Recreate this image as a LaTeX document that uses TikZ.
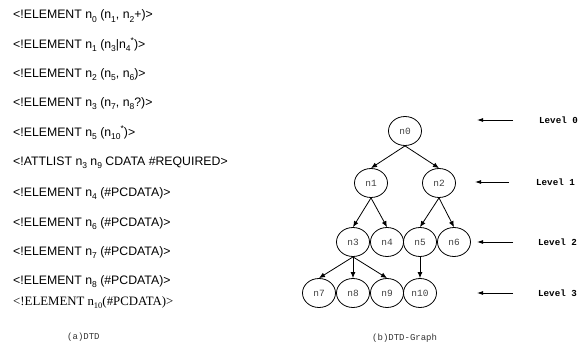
\documentclass[tikz,border=0pt]{standalone}
\usepackage{fontspec}
\setmainfont{Liberation Sans}
\newfontfamily\dtdsans{Liberation Sans}
\newfontfamily\dtdserif{Liberation Serif}
\newfontfamily\dtdmono{Liberation Mono}
\usetikzlibrary{shapes.geometric,arrows.meta}
\newcommand\dsub[1]{\raisebox{-3.2pt}{\fontsize{8.5}{9}\selectfont#1}}
\newcommand\dsup[1]{\raisebox{5pt}{\fontsize{8.5}{9}\selectfont#1}}
\begin{document}
\begin{tikzpicture}[x=1pt,y=-1pt,
  dtdline/.style={anchor=base west,inner sep=0pt,font=\dtdsans\fontsize{12.3}{14}\selectfont},
  dtdlast/.style={anchor=base west,inner sep=0pt,font=\dtdserif\fontsize{12.8}{14}\selectfont},
  gnode/.style={draw,ellipse,minimum width=33pt,minimum height=29pt,inner sep=0pt,line width=0.8pt,
    text=black!75,font=\dtdmono\fontsize{9.5}{10}\selectfont},
  edge/.style={line width=0.8pt,-{Latex[length=6pt,width=5pt]}},
  lvlarrow/.style={line width=0.8pt,-{Latex[length=6pt,width=4pt]}},
  lvllabel/.style={anchor=west,inner sep=0pt,font=\dtdmono\bfseries\fontsize{9.2}{10}\selectfont},
  caption/.style={anchor=west,inner sep=0pt,text=black!80,font=\dtdmono\fontsize{9}{10}\selectfont}]
\useasboundingbox (0,0) rectangle (579,348);
% DTD text
\node[dtdline] (d1) at (13,19) {<!ELEMENT n\dsub{0} (n\dsub{1}, n\dsub{2}+)>};
\node[dtdline] (d2) at (13,48) {<!ELEMENT n\dsub{1} (n\dsub{3}|n\dsub{4}\dsup{*})>};
\node[dtdline] (d3) at (13,77) {<!ELEMENT n\dsub{2} (n\dsub{5}, n\dsub{6})>};
\node[dtdline] (d4) at (13,106) {<!ELEMENT n\dsub{3} (n\dsub{7}, n\dsub{8}?)>};
\node[dtdline] (d5) at (13,136) {<!ELEMENT n\dsub{5} (n\dsub{10}\dsup{*})>};
\node[dtdline] (d6) at (13,165) {<!ATTLIST n\dsub{3} n\dsub{9} CDATA \#REQUIRED>};
\node[dtdline] (d7) at (13,196) {<!ELEMENT n\dsub{4} (\#PCDATA)>};
\node[dtdline] (d8) at (13,226) {<!ELEMENT n\dsub{6} (\#PCDATA)>};
\node[dtdline] (d9) at (13,255) {<!ELEMENT n\dsub{7} (\#PCDATA)>};
\node[dtdline] (d10) at (13,284) {<!ELEMENT n\dsub{8} (\#PCDATA)>};
\node[dtdlast] (d11) at (13,305) {<!ELEMENT n\dsub{10}(\#PCDATA)>};
\node[caption] (capa) at (67,337) {(a)DTD};
% graph
\node[gnode] (n0) at (405,131) {n0};
\node[gnode] (n1) at (371,183) {n1};
\node[gnode] (n2) at (439,183) {n2};
\node[gnode] (n3) at (353,242) {n3};
\node[gnode] (n4) at (387,242) {n4};
\node[gnode] (n5) at (420,242) {n5};
\node[gnode] (n6) at (454,242) {n6};
\node[gnode] (n7) at (319,293) {n7};
\node[gnode] (n8) at (353,293) {n8};
\node[gnode] (n9) at (387,293) {n9};
\node[gnode] (n10) at (420,293) {n10};
\draw[edge] (n0.south) -- (n1.north);
\draw[edge] (n0.south) -- (n2.north);
\draw[edge] (n1.south) -- (n3.north);
\draw[edge] (n1.south) -- (n4.north);
\draw[edge] (n2.south) -- (n5.north);
\draw[edge] (n2.south) -- (n6.north);
\draw[edge] (n3.south) -- (n7.north);
\draw[edge] (n3.south) -- (n8.north);
\draw[edge] (n3.south) -- (n9.north);
\draw[edge] (n5.south) -- (n10.north);
\node[caption] (capb) at (372,338) {(b)DTD-Graph};
% levels
\coordinate (l0s) at (513,120); \coordinate (l0e) at (477,120);
\coordinate (l1s) at (509,182); \coordinate (l1e) at (475,182);
\coordinate (l2s) at (513,242); \coordinate (l2e) at (477,242);
\coordinate (l3s) at (513,293); \coordinate (l3e) at (477,293);
\draw[lvlarrow] (l0s) -- (l0e);
\draw[lvlarrow] (l1s) -- (l1e);
\draw[lvlarrow] (l2s) -- (l2e);
\draw[lvlarrow] (l3s) -- (l3e);
\node[lvllabel] (lv0) at (539,120) {Level 0};
\node[lvllabel] (lv1) at (536,182) {Level 1};
\node[lvllabel] (lv2) at (538,242) {Level 2};
\node[lvllabel] (lv3) at (538,293) {Level 3};
\end{tikzpicture}
\end{document}
